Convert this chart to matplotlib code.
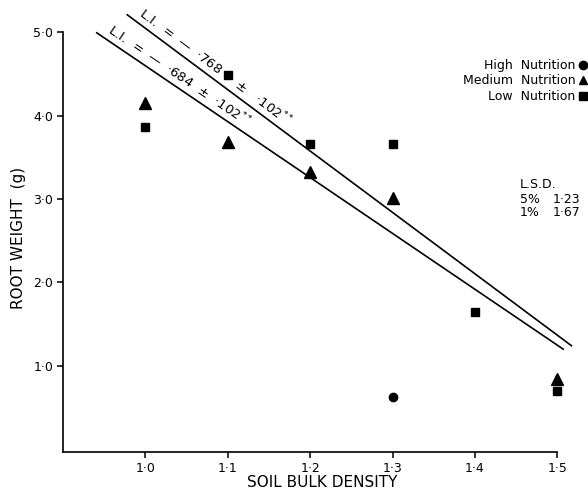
import numpy as np
import matplotlib
matplotlib.use("Agg")
import matplotlib.pyplot as plt
from matplotlib import transforms

plt.rcParams['font.family'] = ['DejaVu Sans']

# root weight (g) against soil bulk density for three nutrition levels
high_density = [1.3]
high_weight = [0.62]

medium_density = [1.0, 1.1, 1.2, 1.3, 1.5]
medium_weight = [4.15, 3.69, 3.33, 3.01, 0.84]

low_density = [1.0, 1.1, 1.2, 1.3, 1.4, 1.5]
low_weight = [3.87, 4.49, 3.66, 3.66, 1.64, 0.70]

# fitted lines: intercept, slope, x-range, label, label size
fit_upper = (12.42, -7.37, (0.978, 1.517), "L.I.  =  —  ·768     ±   ·102$^{**}$", 9.5)
fit_lower = (11.31, -6.71, (0.941, 1.507), "L.I.  =  —  ·684  ±  ·102$^{**}$", 9.5)

x_ticks = [1.0, 1.1, 1.2, 1.3, 1.4, 1.5]
x_tick_labels = ["1·0", "1·1", "1·2", "1·3", "1·4", "1·5"]
y_ticks = [1.0, 2.0, 3.0, 4.0, 5.0]
y_tick_labels = ["1·0", "2·0", "3·0", "4·0", "5·0"]

lsd_rows = [("5%", "1·23"), ("1%", "1·67")]

fig = plt.figure(figsize=(5.88, 4.92), dpi=100)
ax = fig.add_axes([0.1071, 0.0807, 0.883, 0.9075])
ax.set_xlim(0.9, 1.53)
ax.set_ylim(-0.04, 5.32)

for side in ['top', 'right']:
    ax.spines[side].set_visible(False)
ax.spines['left'].set_bounds(-0.04, 5.0)
ax.spines['bottom'].set_bounds(0.9, 1.5)
ax.spines['left'].set_linewidth(1.2)
ax.spines['bottom'].set_linewidth(1.2)

ax.set_xticks(x_ticks)
ax.set_xticklabels(x_tick_labels)
ax.set_yticks(y_ticks)
ax.set_yticklabels(y_tick_labels)
ax.tick_params(direction='out', length=4, width=1.1, labelsize=9, pad=3)

ax.set_xlabel("SOIL BULK DENSITY", fontsize=11, labelpad=0)
ax.set_ylabel("ROOT WEIGHT  (g)", fontsize=11)
ax.yaxis.set_label_coords(-0.071, 0.48)

h1, = ax.plot(high_density, high_weight, 'o', color='black', ms=6, clip_on=False)
h2, = ax.plot(medium_density, medium_weight, '^', color='black', ms=9, clip_on=False)
h3, = ax.plot(low_density, low_weight, 's', color='black', ms=6, clip_on=False)

fig.canvas.draw()
for intercept, slope, (x0, x1), label, size in [fit_upper, fit_lower]:
    xs = np.array([x0, x1])
    ys = intercept + slope * xs
    ax.plot(xs, ys, color='black', lw=1.2, clip_on=False)
    p0, p1 = ax.transData.transform(np.column_stack([xs, ys]))
    angle = np.degrees(np.arctan2(p1[1] - p0[1], p1[0] - p0[0]))
    tx = x0 + 0.010
    shift = transforms.offset_copy(ax.transData, fig=fig, x=0, y=2, units='points')
    ax.text(tx, intercept + slope * tx, label, rotation=angle, rotation_mode='anchor',
            ha='left', va='bottom', fontsize=size, transform=shift)

leg = ax.legend([h1, h2, h3], ["High  Nutrition", "Medium  Nutrition", "Low  Nutrition"],
                markerfirst=False, frameon=False, fontsize=9, handlelength=0.6,
                handletextpad=0.3, labelspacing=0.2, borderpad=0, borderaxespad=0,
                loc='upper right', bbox_to_anchor=(587 / 588, 1 - 59 / 492),
                bbox_transform=fig.transFigure)
for hd in leg.legend_handles:
    hd.set_markersize(6)

fig.text(520 / 588, 1 - 185 / 492, "L.S.D.", fontsize=9, va='center', ha='left')
for i, (level, value) in enumerate(lsd_rows):
    yy = 1 - (199 + 14 * i) / 492
    fig.text(520 / 588, yy, level, fontsize=9, va='center', ha='left')
    fig.text(553 / 588, yy, value, fontsize=9, va='center', ha='left')

fig.savefig("out.png", dpi=100)
